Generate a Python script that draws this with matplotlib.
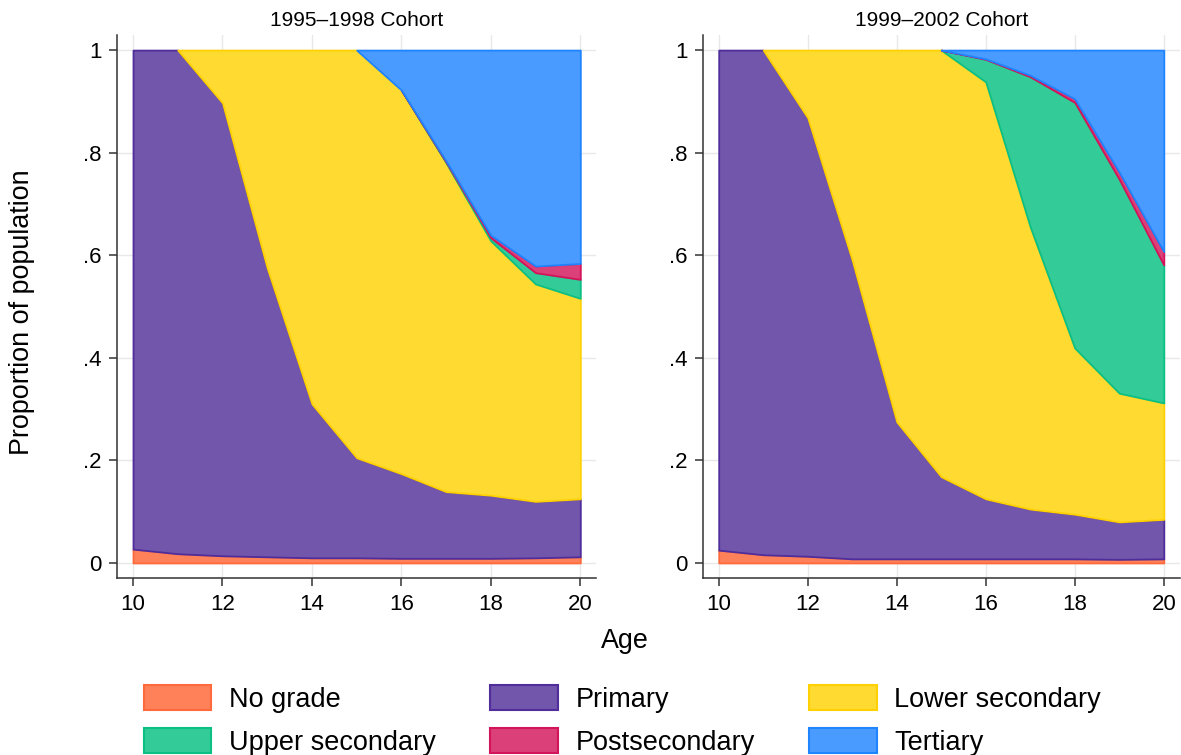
import matplotlib
matplotlib.use('Agg')
import matplotlib.pyplot as plt
from matplotlib.patches import Patch
import numpy as np

plt.rcParams['font.family'] = ['Liberation Sans', 'DejaVu Sans']

ages = [10, 11, 12, 13, 14, 15, 16, 17, 18, 19, 20]

levels = ['No grade', 'Primary', 'Lower secondary', 'Upper secondary', 'Postsecondary', 'Tertiary']
fills = ['#ff8159', '#7256ac', '#ffda30', '#33cc99', '#dc4078', '#4a9bff']
edges = ['#ff6a3d', '#4f2d9a', '#ffd100', '#0bbf85', '#d4145a', '#1f84ff']

# shares of each level by age, 1995-1998 cohort
c95_nograde = [0.027, 0.018, 0.014, 0.012, 0.010, 0.010, 0.009, 0.009, 0.009, 0.010, 0.012]
c95_primary = [0.973, 0.982, 0.883, 0.563, 0.300, 0.195, 0.165, 0.130, 0.123, 0.110, 0.113]
c95_lower = [0.0, 0.0, 0.103, 0.425, 0.690, 0.795, 0.748, 0.641, 0.496, 0.424, 0.391]
c95_upper = [0.0, 0.0, 0.0, 0.0, 0.0, 0.0, 0.0, 0.002, 0.006, 0.022, 0.037]
c95_post = [0.0, 0.0, 0.0, 0.0, 0.0, 0.0, 0.0, 0.002, 0.005, 0.013, 0.031]
c95_tertiary = [0.0, 0.0, 0.0, 0.0, 0.0, 0.0, 0.078, 0.216, 0.361, 0.421, 0.416]

# 1999-2002 cohort
c99_nograde = [0.025, 0.016, 0.013, 0.008, 0.008, 0.008, 0.008, 0.008, 0.008, 0.007, 0.008]
c99_primary = [0.975, 0.984, 0.855, 0.582, 0.267, 0.160, 0.117, 0.097, 0.087, 0.073, 0.077]
c99_lower = [0.0, 0.0, 0.132, 0.410, 0.725, 0.832, 0.813, 0.550, 0.324, 0.251, 0.227]
c99_upper = [0.0, 0.0, 0.0, 0.0, 0.0, 0.0, 0.044, 0.293, 0.479, 0.417, 0.269]
c99_post = [0.0, 0.0, 0.0, 0.0, 0.0, 0.0, 0.001, 0.003, 0.007, 0.014, 0.026]
c99_tertiary = [0.0, 0.0, 0.0, 0.0, 0.0, 0.0, 0.017, 0.049, 0.095, 0.238, 0.393]

cohorts = [
    ('1995\u20131998 Cohort', [c95_nograde, c95_primary, c95_lower, c95_upper, c95_post, c95_tertiary]),
    ('1999\u20132002 Cohort', [c99_nograde, c99_primary, c99_lower, c99_upper, c99_post, c99_tertiary]),
]

yticks = [0, 0.2, 0.4, 0.6, 0.8, 1]
ylabels = ['0', '.2', '.4', '.6', '.8', '1']
xticks = [10, 12, 14, 16, 18, 20]

fig = plt.figure(figsize=(11.81, 7.55), dpi=100)
axs = [fig.add_axes([0.099, 0.234, 0.406, 0.72]),
       fig.add_axes([0.595, 0.234, 0.404, 0.72])]

for ax, (title, layers) in zip(axs, cohorts):
    x = np.array(ages)
    base = np.zeros(len(ages))
    for i, share in enumerate(layers):
        s = np.array(share)
        top = base + s
        pos = s > 0
        # keep neighbours so the polygon starts/ends at zero thickness
        mask = pos | np.r_[pos[1:], False] | np.r_[False, pos[:-1]]
        ax.fill_between(x, base, top, where=mask, facecolor=fills[i],
                        edgecolor=edges[i], linewidth=1.3, zorder=2 + i)
        base = top

    ax.set_xlim(9.64, 20.36)
    ax.set_ylim(-0.03, 1.03)
    ax.set_xticks(xticks)
    ax.set_yticks(yticks)
    ax.set_yticklabels(ylabels)
    ax.grid(True, color='#e8e8e8', linewidth=1)
    ax.set_axisbelow(True)
    for sp in ['top', 'right']:
        ax.spines[sp].set_visible(False)
    for sp in ['left', 'bottom']:
        ax.spines[sp].set_linewidth(1.1)
        ax.spines[sp].set_color('#333333')
    ax.tick_params(direction='out', length=6, width=1.1, color='#333333', labelsize=16, pad=5)
    ax.set_title(title, fontsize=15, pad=6)

fig.text(22 / 1181, 0.587, 'Proportion of population', fontsize=19.4, rotation=90,
         ha='center', va='center')
fig.text(0.529, 0.151, 'Age', fontsize=19.4, ha='center', va='center')

# legend in row order, matplotlib fills column-wise
order = [0, 3, 1, 4, 2, 5]
handles = [Patch(facecolor=fills[i], edgecolor=edges[i], linewidth=1.5) for i in order]
labels = [levels[i] for i in order]
fig.legend(handles, labels, loc='lower center', bbox_to_anchor=(0.527, -0.033), ncol=3,
           frameon=False, fontsize=19.5, handlelength=2.5, handleheight=1.05,
           handletextpad=0.65, columnspacing=2.0, labelspacing=0.56)

fig.savefig('out.png', dpi=100)
